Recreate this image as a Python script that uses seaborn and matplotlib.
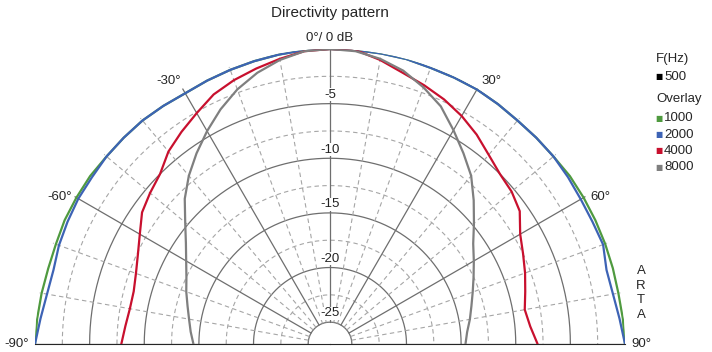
import numpy as np
import matplotlib
matplotlib.use("Agg")
import matplotlib.pyplot as plt
import seaborn as sns

# measured directivity, dB relative to on-axis, read every 5 degrees
angles_deg = list(range(-90, 95, 5))

spl_1000 = [0.0, -0.1, -0.2, -0.3, -0.3, -0.2, -0.2, -0.2, -0.3, -0.3, -0.3, -0.4, -0.5,
            -0.4, -0.3, -0.2, -0.1, 0.0, 0.0, 0.0, 0.0, 0.0, -0.1, -0.1, -0.1, -0.2,
            -0.3, -0.3, -0.3, -0.2, -0.2, -0.2, -0.2, -0.2, -0.2, -0.1, 0.0]
spl_2000 = [0.0, -0.4, -0.7, -0.8, -0.6, -0.5, -0.4, -0.4, -0.3, -0.3, -0.3, -0.4, -0.5,
            -0.4, -0.3, -0.2, -0.1, 0.0, 0.0, 0.0, 0.0, 0.0, -0.1, -0.1, -0.1, -0.2,
            -0.3, -0.3, -0.3, -0.4, -0.5, -0.5, -0.4, -0.8, -0.7, -0.4, 0.0]
spl_4000 = [-7.9, -8.2, -8.4, -8.4, -8.1, -7.6, -6.9, -6.0, -5.5, -5.0, -4.0, -3.3, -2.6,
            -1.8, -1.3, -0.9, -0.5, -0.1, 0.0, 0.0, -0.6, -1.3, -1.8, -2.3, -2.9, -3.6,
            -4.4, -5.0, -5.3, -5.8, -6.9, -7.5, -8.0, -8.5, -8.9, -8.6, -8.0]
spl_8000 = [-14.5, -14.2, -13.9, -13.5, -13.0, -12.5, -11.8, -10.9, -9.7, -8.2, -6.9, -5.7,
            -4.5, -3.3, -2.2, -1.3, -0.6, -0.1, 0.0, -0.1, -0.5, -1.1, -2.0, -3.0, -4.4,
            -5.7, -6.9, -8.4, -9.8, -11.0, -11.8, -12.5, -13.1, -13.6, -14.0, -14.4, -14.6]

series_labels = ["1000", "2000", "4000", "8000"]
series_values = [spl_1000, spl_2000, spl_4000, spl_8000]
series_colors = ["#4f9a3f", "#3d63b5", "#c8102e", "#7f7f7f"]

ring_levels = [-5, -10, -15, -20, -25]
angle_ticks = [-90, -60, -30, 0, 30, 60, 90]
r_min, r_max = -27.0, 0.0

sns.set_style("white")
plt.rcParams["font.family"] = ["Liberation Sans", "DejaVu Sans"]

fig = plt.figure(figsize=(7.12, 3.52), dpi=100)
# polar half-wedge is fitted into a square box, so give it a square that
# puts the half disc centre at (330, 344) px with radius 295 px
side = 590
mid_y = (49 + 344) / 2
ax = fig.add_axes([35 / 712, (352 - (mid_y + side / 2)) / 352, side / 712, side / 352],
                  projection="polar")
ax.set_theta_zero_location("N")
ax.set_theta_direction(-1)
ax.set_thetamin(-90)
ax.set_thetamax(90)
ax.set_rlim(r_min, r_max)
ax.grid(False)
ax.set_xticks([])
ax.set_yticks([])
for sp in ax.spines.values():
    sp.set_visible(False)

# grid: solid rings every 5 dB, dashed rings in between
th = np.radians(np.linspace(-90, 90, 361))
solid_c = "#6e6e6e"
dash_c = "#a6a6a6"
for lvl in ring_levels:
    ax.plot(th, np.full_like(th, lvl), color=solid_c, lw=0.9, zorder=1)
for lvl in [-2.5, -7.5, -12.5, -17.5, -22.5]:
    ax.plot(th, np.full_like(th, lvl), color=dash_c, lw=0.8, ls=(0, (4, 3)), zorder=1)
for a in range(-90, 91, 10):
    if a % 30 == 0:
        ax.plot([np.radians(a)] * 2, [-25, 0], color=solid_c, lw=0.9, zorder=1)
    else:
        ax.plot([np.radians(a)] * 2, [-25, 0], color=dash_c, lw=0.8, ls=(0, (4, 3)), zorder=1)

# curves
theta = np.radians(angles_deg)
for lab, vals, col in zip(series_labels, series_values, series_colors):
    sns.lineplot(x=theta, y=vals, ax=ax, color=col, lw=1.6, sort=False,
                 legend=False, zorder=3)
ax.set_xlabel("")
ax.set_ylabel("")

# radial labels
for lvl in ring_levels:
    ax.text(0, lvl + 0.8, str(lvl), ha="center", va="center", fontsize=9.5,
            color="#222222", zorder=4,
            bbox=dict(facecolor="white", edgecolor="none", pad=0.3))

# angle labels
for a in angle_ticks:
    if a == 0:
        ax.text(0, 1.0, "0°/ 0 dB", ha="center", va="center", fontsize=9.5, clip_on=False)
    elif abs(a) == 90:
        ax.text(np.radians(a), 0.6, f"{a}°", ha="right" if a < 0 else "left",
                va="center", fontsize=9.5, clip_on=False)
    else:
        sgn = 1 if a > 0 else -1
        ax.text(np.radians(a + sgn * 1.5), 1.2, f"{a}°", ha="center", va="center",
                fontsize=9.5, clip_on=False)

fig.text(330 / 712, 1 - 13 / 352, "Directivity pattern", ha="center", va="center",
         fontsize=11)

# legend drawn as text
def legend_row(y_px, txt, col=None):
    if col is not None:
        fig.text(655 / 712, 1 - y_px / 352, "■", color=col, fontsize=5.5, ha="left",
                 va="center", family=["DejaVu Sans"])
        fig.text(664 / 712, 1 - y_px / 352, txt, fontsize=9.5, ha="left", va="center")
    else:
        fig.text(656 / 712, 1 - y_px / 352, txt, fontsize=9.5, ha="left", va="center")

legend_row(59, "F(Hz)")
legend_row(77, "500", "black")
legend_row(99, "Overlay")
for i, (lab, col) in enumerate(zip(series_labels, series_colors)):
    legend_row(118 + i * 16.5, lab, col)

fig.text(641 / 712, 1 - 293 / 352, "A\nR\nT\nA", ha="center", va="center",
         fontsize=9.5, linespacing=1.3)

fig.savefig("out.png", dpi=100)
